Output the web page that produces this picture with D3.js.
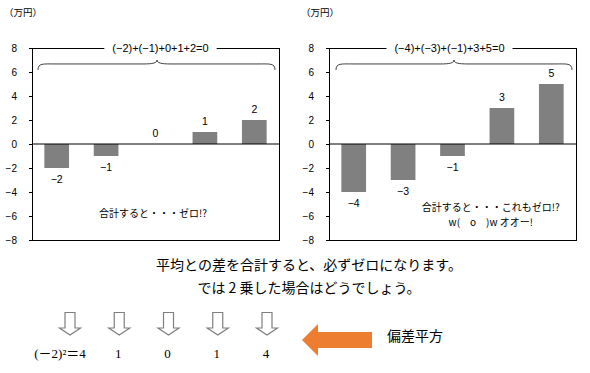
<!DOCTYPE html>
<html>
<head>
<meta charset="utf-8">
<script src="https://cdn.jsdelivr.net/npm/d3@7"></script>
<style>
  html, body { margin: 0; padding: 0; background: #fff; }
  svg { display: block; }
  text { font-family: "Liberation Sans", Arial, "Noto Sans CJK JP", sans-serif; }
  .jp { font-family: "Noto Sans CJK JP", sans-serif; }
  .serif { font-family: "Liberation Serif", "Noto Sans CJK JP", serif; }
</style>
</head>
<body>
<svg id="chart" width="590" height="373"></svg>
<script>
// dades
const leftValues = [-2, -1, 0, 1, 2];
const rightValues = [-4, -3, -1, 3, 5];
const yTicks = [-8, -6, -4, -2, 0, 2, 4, 6, 8];
const leftFormula = "(−2)+(−1)+0+1+2=0";
const rightFormula = "(−4)+(−3)+(−1)+3+5=0";
const leftNote = ["合計すると・・・ゼロ!?"];
const rightNote = ["合計すると・・・これもゼロ!?", "w(\u3000o\u3000)w オオー!"];
const unitLabel = "（万円）";
const messageLines = ["平均との差を合計すると、必ずゼロになります。", "では 2 乗した場合はどうでしょう。"];
const squareLabels = ["(－2)²＝4", "1", "0", "1", "4"];
const squareTitle = "偏差平方";

const svg = d3.select("#chart");
const fmt = d3.format("d");   // dona el signe − tipogràfic

function drawChart(opts) {
  const { left, right, top, bottom, values, formula, formulaDx, braceX, note, noteX, noteY } = opts;
  const g = svg.append("g");

  const x = d3.scaleBand()
    .domain(d3.range(values.length))
    .range([left, right])
    .paddingInner(0.5)
    .paddingOuter(0.25);

  const y = d3.scaleLinear()
    .domain([-8, 8])
    .range([bottom, top]);

  // unitat
  g.append("text")
    .attr("class", "jp")
    .attr("x", left - 28)
    .attr("y", 16)
    .attr("font-size", 9.5)
    .text(unitLabel);

  // eix Y
  g.append("g")
    .attr("transform", `translate(${left},0)`)
    .call(d3.axisLeft(y).tickValues(yTicks).tickFormat(fmt).tickSize(3).tickPadding(12))
    .call(a => a.select(".domain").remove())
    .call(a => a.selectAll("line").attr("stroke", "#000"))
    .call(a => a.selectAll("text").attr("font-size", 10).attr("fill", "#000")
      .attr("font-family", "Liberation Sans, Arial, sans-serif"));

  // barres
  g.selectAll("rect.bar")
    .data(values)
    .join("rect")
    .attr("class", "bar")
    .attr("x", (d, i) => x(i))
    .attr("width", x.bandwidth())
    .attr("y", d => y(Math.max(0, d)))
    .attr("height", d => Math.abs(y(d) - y(0)))
    .attr("fill", "#808080");

  // etiquetes de valor
  g.selectAll("text.val")
    .data(values)
    .join("text")
    .attr("class", "val")
    .attr("x", (d, i) => x(i) + x.bandwidth() / 2)
    .attr("y", d => d >= 0 ? y(d) - 11 : y(d) + 11)
    .attr("dy", "0.35em")
    .attr("text-anchor", "middle")
    .attr("font-size", 10.5)
    .text(d => fmt(d));

  // línia del zero
  g.append("line")
    .attr("x1", left).attr("x2", right)
    .attr("y1", y(0)).attr("y2", y(0))
    .attr("stroke", "#000");

  // marc
  g.append("rect")
    .attr("x", left + 0.5).attr("y", top + 0.5)
    .attr("width", right - left).attr("height", bottom - top)
    .attr("fill", "none")
    .attr("stroke", "#000");

  // clau
  const [bx0, bxp, bx1] = braceX;
  const yl = y(6.67), ye = y(6.17), yp = y(7);
  g.append("path")
    .attr("d", `M${bx0},${ye} C${bx0},${yl - 1} ${bx0 + 5},${yl} ${bx0 + 18},${yl}
      L${bxp - 14},${yl} C${bxp - 4},${yl} ${bxp},${yl - 1} ${bxp},${yp}
      C${bxp},${yl - 1} ${bxp + 4},${yl} ${bxp + 14},${yl}
      L${bx1 - 18},${yl} C${bx1 - 5},${yl} ${bx1},${yl - 1} ${bx1},${ye}`)
    .attr("fill", "none")
    .attr("stroke", "#404040")
    .attr("stroke-width", 1);

  // fórmula sobre el marc
  const cx = (left + right) / 2 + formulaDx;
  const ft = g.append("text")
    .attr("x", cx)
    .attr("y", top)
    .attr("dy", "0.35em")
    .attr("text-anchor", "middle")
    .attr("font-size", 11)
    .text(formula);
  const bb = ft.node().getBBox();
  g.append("rect")
    .attr("x", bb.x - 8).attr("y", top - 3)
    .attr("width", bb.width + 16).attr("height", 6)
    .attr("fill", "#fff");
  ft.raise();

  // nota
  g.selectAll("text.note")
    .data(note)
    .join("text")
    .attr("class", "note jp")
    .attr("x", left + (right - left) * noteX)
    .attr("y", (d, i) => y(noteY[i]))
    .attr("dy", "0.35em")
    .attr("text-anchor", "middle")
    .attr("font-size", 10)
    .text(d => d);
}

drawChart({
  left: 32, right: 279, top: 48, bottom: 240,
  values: leftValues, formula: leftFormula, formulaDx: 5,
  braceX: [38, 157, 275],
  note: leftNote, noteX: 0.49, noteY: [-5.75]
});

drawChart({
  left: 329, right: 576, top: 48, bottom: 240,
  values: rightValues, formula: rightFormula, formulaDx: -3,
  braceX: [336, 454, 572],
  note: rightNote, noteX: 0.655, noteY: [-5.25, -6.55]
});

// missatge central
svg.selectAll("text.msg")
  .data(messageLines)
  .join("text")
  .attr("class", "msg jp")
  .attr("x", 309)
  .attr("y", (d, i) => 265 + i * 23)
  .attr("dy", "0.35em")
  .attr("text-anchor", "middle")
  .attr("font-size", 14)
  .text(d => d);

// fletxes buides
const ax = d3.scalePoint().domain(d3.range(squareLabels.length)).range([70, 267]);
const arrowPath = "M-5,0 L5,0 L5,15.5 L10.5,15.5 L0,22.5 L-10.5,15.5 L-5,15.5 Z";

svg.selectAll("path.down")
  .data(squareLabels)
  .join("path")
  .attr("class", "down")
  .attr("transform", (d, i) => `translate(${ax(i)},312.5)`)
  .attr("d", arrowPath)
  .attr("fill", "#fff")
  .attr("stroke", "#7f7f7f")
  .attr("stroke-width", 1.2);

svg.selectAll("text.sq")
  .data(squareLabels)
  .join("text")
  .attr("class", "sq serif")
  .attr("x", (d, i) => ax(i) + (i === 0 ? -10 : -1))
  .attr("y", 353)
  .attr("dy", "0.35em")
  .attr("text-anchor", "middle")
  .attr("font-size", 13)
  .text(d => d);

// fletxa taronja
svg.append("path")
  .attr("d", "M302,340 L318,324 L318,332 L372,332 L372,348 L318,348 L318,356 Z")
  .attr("fill", "#ED7D31");

svg.append("text")
  .attr("class", "jp")
  .attr("x", 387)
  .attr("y", 336)
  .attr("dy", "0.35em")
  .attr("font-size", 14)
  .text(squareTitle);
</script>
</body>
</html>
